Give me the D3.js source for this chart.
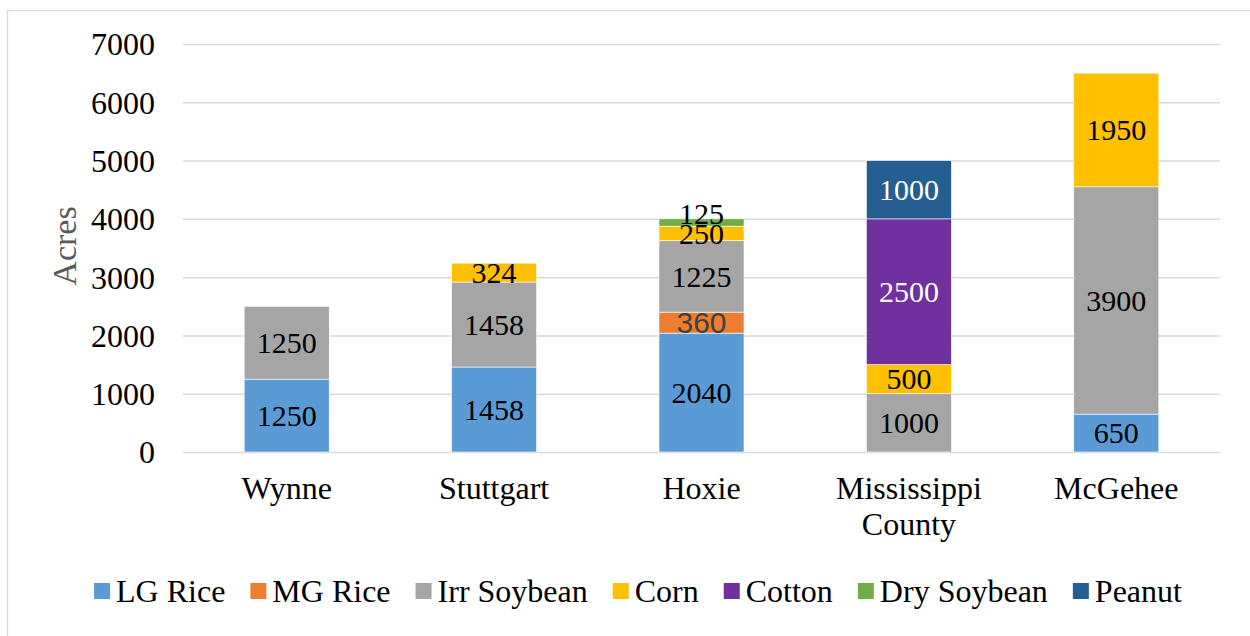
<!DOCTYPE html>
<html>
<head>
<meta charset="utf-8">
<script src="https://cdn.jsdelivr.net/npm/d3@7"></script>
<style>
  body { margin: 0; background: #fff; }
  svg { display: block; font-family: "Liberation Serif", "Times New Roman", serif; }
</style>
</head>
<body>
<div id="chart"></div>
<script>
/* Data */
const CATEGORIES = ['Wynne', 'Stuttgart', 'Hoxie', 'Mississippi County', 'McGehee'];
const SERIES = ['LG Rice', 'MG Rice', 'Irr Soybean', 'Corn', 'Cotton', 'Dry Soybean', 'Peanut'];
const LG_RICE     = [1250, 1458, 2040, 0, 650];
const MG_RICE     = [0, 0, 360, 0, 0];
const IRR_SOYBEAN = [1250, 1458, 1225, 1000, 3900];
const CORN        = [0, 324, 250, 500, 1950];
const COTTON      = [0, 0, 0, 2500, 0];
const DRY_SOYBEAN = [0, 0, 125, 0, 0];
const PEANUT      = [0, 0, 0, 1000, 0];
const Y_TICKS = [0, 1000, 2000, 3000, 4000, 5000, 6000, 7000];

const COLORS = ['#5B9BD5', '#ED7D31', '#A5A5A5', '#FFC000', '#7030A0', '#70AD47', '#255E91'];
const LABEL_COLORS = ['#000', '#404040', '#000', '#000', '#fff', '#000', '#fff'];

/* Dimensions */
const WIDTH = 1250;
const HEIGHT = 636;
const PLOT_LEFT = 183;
const PLOT_RIGHT = 1220;
const PLOT_TOP = 44;
const PLOT_BOTTOM = 452;

const seriesValues = [LG_RICE, MG_RICE, IRR_SOYBEAN, CORN, COTTON, DRY_SOYBEAN, PEANUT];
const rows = CATEGORIES.map((c, i) => {
    const row = { category: c };
    SERIES.forEach((s, j) => { row[s] = seriesValues[j][i]; });
    return row;
});
const stacked = d3.stack().keys(SERIES)(rows);

const svg = d3.select('#chart').append('svg')
    .attr('width', WIDTH)
    .attr('height', HEIGHT);

// chart area border
svg.append('rect')
    .attr('x', 7.5).attr('y', 10.5)
    .attr('width', WIDTH + 20).attr('height', HEIGHT + 20)
    .attr('fill', '#fff')
    .attr('stroke', '#d9d9d9')
    .attr('stroke-width', 1.3);

const x = d3.scaleBand()
    .domain(CATEGORIES)
    .range([PLOT_LEFT, PLOT_RIGHT])
    .paddingInner(0.59)
    .paddingOuter(0.295);

const y = d3.scaleLinear()
    .domain([0, 7000])
    .range([PLOT_BOTTOM, PLOT_TOP]);

// gridlines + y labels
const yAxis = d3.axisLeft(y).tickValues(Y_TICKS)
    .tickSize(-(PLOT_RIGHT - PLOT_LEFT))
    .tickPadding(28)
    .tickFormat(d3.format('d'));

const yg = svg.append('g')
    .attr('transform', `translate(${PLOT_LEFT},0)`)
    .call(yAxis);
yg.select('.domain').remove();
yg.selectAll('.tick line').attr('stroke', '#d9d9d9').attr('stroke-width', 1.5);
yg.selectAll('.tick text')
    .attr('fill', '#000')
    .style('font-size', '32px')
    .style('font-family', '"Liberation Serif", serif')
    .attr('dy', '0.34em');

// axis title
svg.append('text')
    .attr('transform', 'translate(76,246) rotate(-90)')
    .attr('text-anchor', 'middle')
    .attr('fill', '#595959')
    .style('font-size', '34px')
    .text('Acres');

// bars
const layers = svg.append('g').selectAll('g').data(stacked).enter().append('g')
    .attr('fill', (d, i) => COLORS[i]);

layers.selectAll('rect').data(d => d.filter(p => p[1] - p[0] > 0)).enter().append('rect')
    .attr('x', d => x(d.data.category))
    .attr('width', x.bandwidth())
    .attr('y', d => y(d[1]))
    .attr('height', d => y(d[0]) - y(d[1]))
    .attr('stroke', '#fff')
    .attr('stroke-width', 0.6);

// data labels
stacked.forEach((layer, i) => {
    svg.append('g').selectAll('text').data(layer.filter(p => p[1] - p[0] > 0)).enter().append('text')
        .attr('x', d => x(d.data.category) + x.bandwidth() / 2)
        .attr('y', d => {
            const mid = (y(d[0]) + y(d[1])) / 2;
            return (y(d[0]) - y(d[1])) < 10 ? mid - 9 : mid;
        })
        .attr('dy', '0.34em')
        .attr('text-anchor', 'middle')
        .attr('fill', LABEL_COLORS[i])
        .style('font-size', '30px')
        .style('font-family', i === 1 ? '"Liberation Sans", sans-serif' : null)
        .text(d => d[1] - d[0]);
});

// category labels
const catLabels = svg.append('g').selectAll('text').data(CATEGORIES).enter().append('text')
    .attr('x', d => x(d) + x.bandwidth() / 2)
    .attr('y', 499)
    .attr('text-anchor', 'middle')
    .attr('fill', '#000')
    .style('font-size', '32px');
catLabels.each(function(d) {
    const words = d.split(' ');
    const t = d3.select(this);
    words.forEach((w, k) => {
        t.append('tspan')
            .attr('x', x(d) + x.bandwidth() / 2)
            .attr('dy', k === 0 ? 0 : 36)
            .text(w);
    });
});

// legend
const legend = svg.append('g');
const items = legend.selectAll('g').data(SERIES).enter().append('g');
items.append('rect')
    .attr('width', 16).attr('height', 16)
    .attr('y', 583)
    .attr('fill', (d, i) => COLORS[i]);
items.append('text')
    .attr('x', 22).attr('y', 602)
    .attr('fill', '#000')
    .style('font-size', '32px')
    .text(d => d);
let pos = 0;
items.each(function() {
    const w = d3.select(this).select('text').node().getComputedTextLength();
    d3.select(this).attr('transform', `translate(${pos},0)`);
    pos += 22 + w + 25;
});
const total = pos - 25;
legend.attr('transform', `translate(${638 - total / 2},0)`);
</script>
</body>
</html>
